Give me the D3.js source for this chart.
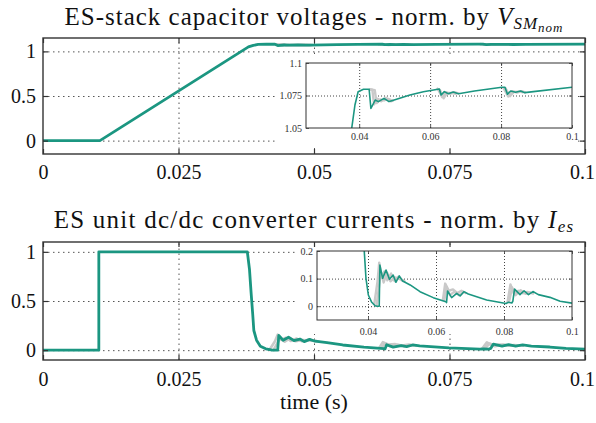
<!DOCTYPE html>
<html>
<head>
<meta charset="utf-8">
<script src="https://cdn.jsdelivr.net/npm/d3@7"></script>
<style>
  body { margin: 0; background: #fff; }
  svg { display: block; }
  svg text { font-family: "Liberation Serif", "DejaVu Serif", serif; }
</style>
</head>
<body>
<svg id="chart" width="596" height="423"></svg>
<script>
// ---- data ----
const mainXTicks = [0, 0.025, 0.05, 0.075, 0.1];
const mainYTicks = [0, 0.5, 1];
const insetXTicks = [0.04, 0.06, 0.08, 0.1];
const voltInsetYTicks = [1.05, 1.075, 1.1];
const currInsetYTicks = [0, 0.1, 0.2];

// ES-stack capacitor voltage (highlighted unit)
const voltTeal = [
  [0, 0], [0.0105, 0], [0.0379, 1.05], [0.0388, 1.0677], [0.0397, 1.0779], [0.0412, 1.0798],
  [0.0428, 1.0798], [0.0433, 1.065], [0.0445, 1.0715], [0.0454, 1.0703], [0.047, 1.0728],
  [0.0484, 1.0703], [0.0492, 1.071], [0.0543, 1.0754], [0.0581, 1.0779], [0.0626, 1.080],
  [0.0631, 1.0754], [0.064, 1.078], [0.0651, 1.0764], [0.0665, 1.0777], [0.068, 1.0764],
  [0.0725, 1.0785], [0.0802, 1.0813], [0.0811, 1.0813], [0.0818, 1.076], [0.0827, 1.0785],
  [0.0841, 1.0775], [0.0855, 1.0785], [0.0867, 1.0772], [0.0891, 1.078], [0.1, 1.0813]
];
// other units, only where they part from the highlighted one
const voltGreyA = [
  [[0.0428, 1.0798], [0.0437, 1.0795], [0.0442, 1.0682], [0.0452, 1.0725], [0.0462, 1.0705], [0.0476, 1.0732], [0.0489, 1.0705], [0.0497, 1.0713]],
  [[0.0622, 1.0798], [0.0634, 1.0738], [0.0644, 1.0776], [0.0656, 1.0762], [0.0668, 1.0776], [0.0682, 1.0765]],
  [[0.0806, 1.0813], [0.0820, 1.0742], [0.0831, 1.0783], [0.0845, 1.0772], [0.0858, 1.0784], [0.0870, 1.0772]]
];
const voltGreyB = [
  [[0.0428, 1.0798], [0.0444, 1.0790], [0.0449, 1.0692], [0.0459, 1.0720], [0.0470, 1.0712], [0.0482, 1.0724], [0.0494, 1.0709]],
  [[0.0618, 1.0806], [0.0628, 1.0790], [0.0638, 1.0728], [0.0648, 1.0770], [0.0660, 1.0770], [0.0675, 1.0760]],
  [[0.0811, 1.0813], [0.0825, 1.0745], [0.0836, 1.0778], [0.0850, 1.0780], [0.0863, 1.0775]]
];

// ES unit dc/dc converter current (highlighted unit)
const currTeal = [
  [0, 0], [0.0103, 0], [0.0103, 1], [0.0377, 1], [0.0381, 0.82], [0.0384, 0.58], [0.0387, 0.36],
  [0.0389, 0.2], [0.0394, 0.101], [0.0401, 0.0406], [0.0411, 0.0141], [0.0421, 0.0018], [0.0427, 0],
  [0.0433, 0], [0.0435, 0.149], [0.0443, 0.101], [0.0453, 0.131], [0.0463, 0.0975], [0.0474, 0.113],
  [0.0482, 0.0866], [0.0492, 0.110], [0.0502, 0.091], [0.0524, 0.077], [0.0553, 0.0527], [0.0592, 0.031],
  [0.0629, 0.0165], [0.0631, 0.013], [0.0634, 0.055], [0.0646, 0.031], [0.0661, 0.0466], [0.0671, 0.037],
  [0.0682, 0.0527], [0.0695, 0.044], [0.0749, 0.0225], [0.0806, 0.010], [0.0813, 0.0141], [0.0823, 0.0116],
  [0.0826, 0.018], [0.0831, 0.062], [0.0847, 0.042], [0.0859, 0.056], [0.0872, 0.042], [0.0885, 0.053],
  [0.0901, 0.042], [0.0935, 0.032], [0.0965, 0.0177], [0.1, 0.011]
];
const currGreyA = [
  [[0.0418, 0.004], [0.0428, 0.09], [0.0433, 0.158], [0.0440, 0.104], [0.0448, 0.126], [0.0457, 0.094], [0.0468, 0.118], [0.0478, 0.091], [0.0489, 0.107], [0.0500, 0.096], [0.0510, 0.088]],
  [[0.0620, 0.020], [0.0627, 0.082], [0.0638, 0.056], [0.0650, 0.061], [0.0662, 0.048], [0.0675, 0.056], [0.0690, 0.046]],
  [[0.0810, 0.013], [0.0819, 0.079], [0.0829, 0.046], [0.0842, 0.056], [0.0855, 0.047], [0.0869, 0.052], [0.0888, 0.045]]
];
const currGreyB = [
  [[0.0425, 0.0], [0.0438, 0.125], [0.0446, 0.086], [0.0456, 0.122], [0.0466, 0.090], [0.0479, 0.104], [0.0494, 0.098], [0.0505, 0.090]],
  [[0.0624, 0.018], [0.0631, 0.068], [0.0641, 0.040], [0.0654, 0.053], [0.0667, 0.040], [0.0680, 0.050]],
  [[0.0814, 0.012], [0.0824, 0.068], [0.0834, 0.040], [0.0849, 0.058], [0.0863, 0.045], [0.0880, 0.050]]
];

// ---- drawing ----
const teal = '#1b9681';
const grey = '#c9c9c9';
const frameColor = '#333';
const serif = '"Liberation Serif", "DejaVu Serif", serif';
const svg = d3.select('#chart');
const defs = svg.append('defs');

const fmt = d => String(d);

function grid(g, x, y, xVals, yVals, dash, color) {
  const [x0, x1] = x.range();
  const [y0, y1] = y.range();
  g.append('g').attr('transform', `translate(0,${y0})`)
    .call(d3.axisBottom(x).tickValues(xVals).tickSize(-(y0 - y1)).tickFormat(''))
    .call(s => s.select('.domain').remove())
    .selectAll('line').attr('stroke', color).attr('stroke-dasharray', dash);
  g.append('g').attr('transform', `translate(${x0},0)`)
    .call(d3.axisLeft(y).tickValues(yVals).tickSize(-(x1 - x0)).tickFormat(''))
    .call(s => s.select('.domain').remove())
    .selectAll('line').attr('stroke', color).attr('stroke-dasharray', dash);
}

function ticks(g, x, y, xVals, yVals, len, o) {
  const [x0, x1] = x.range();
  const [y0, y1] = y.range();
  const style = s => {
    s.attr('font-family', serif);
    s.select('.domain').remove();
    s.selectAll('line').attr('stroke', o.color).attr('stroke-width', o.width);
    s.selectAll('text').attr('font-size', o.fontSize).attr('fill', o.textColor);
  };
  const bottom = g.append('g').attr('transform', `translate(0,${y0})`)
    .call(d3.axisBottom(x).tickValues(xVals).tickSizeInner(-len).tickSizeOuter(0)
      .tickPadding(o.xPad).tickFormat(fmt)).call(style);
  // keep the last label (at the right edge) inside the picture
  bottom.selectAll('text').filter(d => d === 0.1).attr('dx', o.lastDx || 0);
  g.append('g').attr('transform', `translate(${x0},0)`)
    .call(d3.axisLeft(y).tickValues(yVals).tickSizeInner(-len).tickSizeOuter(0)
      .tickPadding(o.yPad).tickFormat(fmt)).call(style);
  g.append('g').attr('transform', `translate(0,${y1})`)
    .call(d3.axisTop(x).tickValues(xVals).tickSizeInner(-len).tickSizeOuter(0).tickFormat('')).call(style);
  g.append('g').attr('transform', `translate(${x1},0)`)
    .call(d3.axisRight(y).tickValues(yVals).tickSizeInner(-len).tickSizeOuter(0).tickFormat('')).call(style);
}

function series(g, x, y, main, greys, tealWidth, greyWidth) {
  const line = d3.line().x(d => x(d[0])).y(d => y(d[1]));
  greys.forEach(unit => unit.forEach(seg => {
    g.append('path').attr('d', line(seg)).attr('fill', 'none')
      .attr('stroke', grey).attr('stroke-width', greyWidth).attr('stroke-linejoin', 'round');
  }));
  g.append('path').attr('d', line(main)).attr('fill', 'none')
    .attr('stroke', teal).attr('stroke-width', tealWidth).attr('stroke-linejoin', 'round');
}

function panel(o, id) {
  const g = svg.append('g');
  const x = d3.scaleLinear().domain([0, 0.1]).range([43, 585]);
  const y = d3.scaleLinear().domain(o.yDomain).range([o.bottom, o.top]);

  defs.append('clipPath').attr('id', `clip-${id}`).append('rect')
    .attr('x', 43).attr('y', o.top).attr('width', 542).attr('height', o.bottom - o.top);
  defs.append('clipPath').attr('id', `clip-${id}-in`).append('rect')
    .attr('x', o.inset.x[0]).attr('y', o.inset.y[1])
    .attr('width', o.inset.x[1] - o.inset.x[0]).attr('height', o.inset.y[0] - o.inset.y[1]);

  grid(g, x, y, [0.025, 0.05, 0.075], mainYTicks, '1.5,3.5', '#555');
  series(g.append('g').attr('clip-path', `url(#clip-${id})`), x, y, o.teal, o.greys, 2.8, 2.6);

  // inset
  const xi = d3.scaleLinear().domain([0.025, 0.1]).range(o.inset.x);
  const yi = d3.scaleLinear().domain(o.inset.yDomain).range(o.inset.y);
  g.append('rect').attr('x', o.inset.bg[0]).attr('y', o.inset.bg[1])
    .attr('width', o.inset.bg[2] - o.inset.bg[0]).attr('height', o.inset.bg[3] - o.inset.bg[1])
    .attr('fill', '#fff');
  grid(g, xi, yi, [0.04, 0.06, 0.08], o.inset.gridY, '1,2', '#444');
  series(g.append('g').attr('clip-path', `url(#clip-${id}-in)`), xi, yi, o.teal, o.greys, 1.6, 2.4);
  g.append('rect').attr('x', o.inset.x[0]).attr('y', o.inset.y[1])
    .attr('width', o.inset.x[1] - o.inset.x[0]).attr('height', o.inset.y[0] - o.inset.y[1])
    .attr('fill', 'none').attr('stroke', frameColor).attr('stroke-width', 1);
  ticks(g, xi, yi, insetXTicks, o.inset.yTicks, 3,
    {color: frameColor, width: 0.8, fontSize: 10, textColor: '#333', xPad: o.inset.xPad, yPad: 4});

  // main frame and ticks
  g.append('rect').attr('x', 43).attr('y', o.top).attr('width', 542).attr('height', o.bottom - o.top)
    .attr('fill', 'none').attr('stroke', frameColor).attr('stroke-width', 1.4);
  ticks(g, x, y, mainXTicks, mainYTicks, 5,
    {color: frameColor, width: 1.2, fontSize: 20, textColor: '#111', xPad: o.xPad, yPad: 7, lastDx: -3});

  // title
  const t = g.append('text').attr('x', 314).attr('y', o.titleY).attr('text-anchor', 'middle')
    .attr('font-family', serif).attr('font-size', 25).attr('letter-spacing', o.titleSpacing)
    .attr('fill', '#111');
  o.title(t);
}

panel({
  top: 38, bottom: 154, yDomain: [-0.15, 1.15], xPad: 11, titleY: 25, titleSpacing: 1,
  teal: voltTeal, greys: [voltGreyA, voltGreyB],
  inset: {x: [306, 572], y: [128, 63], yDomain: [1.05, 1.1], yTicks: voltInsetYTicks,
          gridY: [1.075], bg: [278, 55, 578, 148], xPad: 5},
  title: t => {
    t.append('tspan').text('ES-stack capacitor voltages - norm. by ');
    t.append('tspan').attr('font-style', 'italic').text('V');
    t.append('tspan').attr('font-style', 'italic').attr('font-size', 17).attr('dy', 4).text('SM');
    t.append('tspan').attr('font-style', 'italic').attr('font-size', 13).attr('dy', 3).text('nom');
  }
}, 'v');

panel({
  top: 242, bottom: 360, yDomain: [-0.1, 1.1], xPad: 12, titleY: 228, titleSpacing: 1.25,
  teal: currTeal, greys: [currGreyA, currGreyB],
  inset: {x: [317, 572], y: [320, 251], yDomain: [-0.05, 0.2], yTicks: currInsetYTicks,
          gridY: [0, 0.1], bg: [295, 246, 578, 334], xPad: 8},
  title: t => {
    t.append('tspan').text('ES unit dc/dc converter currents - norm. by ');
    t.append('tspan').attr('font-style', 'italic').text('I');
    t.append('tspan').attr('font-style', 'italic').attr('font-size', 17).attr('dy', 4).text('es');
  }
}, 'i');

svg.append('text').attr('x', 314).attr('y', 409).attr('text-anchor', 'middle')
  .attr('font-family', serif).attr('font-size', 22).attr('fill', '#111').text('time (s)');
</script>
</body>
</html>
